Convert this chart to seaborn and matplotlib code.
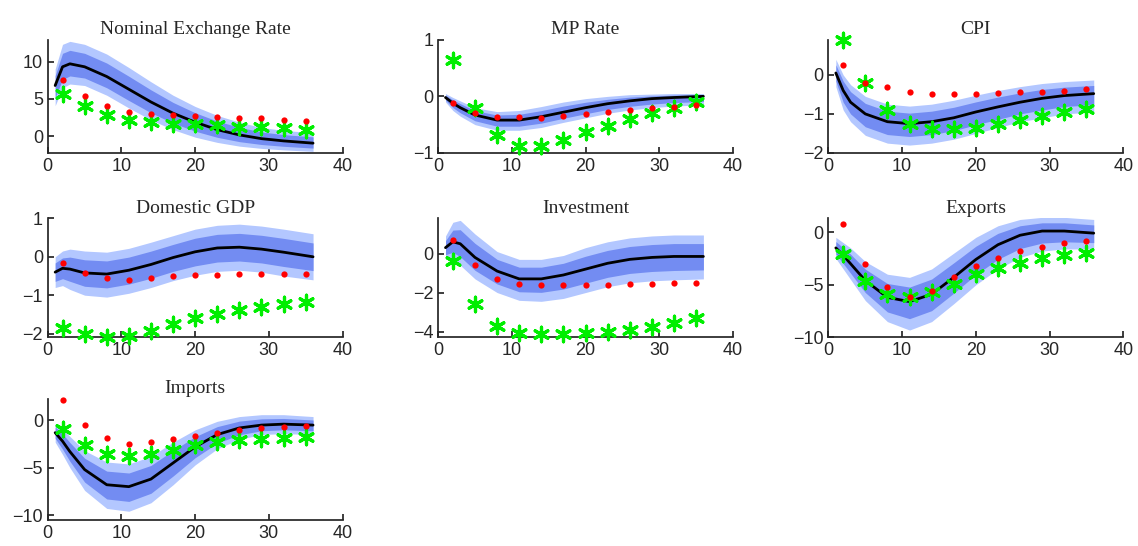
import numpy as np
import matplotlib
matplotlib.use("Agg")
import matplotlib.pyplot as plt
import seaborn as sns

titles = ["Nominal Exchange Rate", "MP Rate", "CPI", "Domestic GDP",
          "Investment", "Exports", "Imports"]

# horizon points for the model median and bands
x_line = [1, 2, 3, 5, 8, 11, 14, 17, 20, 23, 26, 29, 32, 36]
# horizons of the dot / star markers
x_mark = [2, 5, 8, 11, 14, 17, 20, 23, 26, 29, 32, 35]

median = [
    [6.8, 9.3, 9.7, 9.3, 8.0, 6.3, 4.6, 3.1, 1.9, 0.9, 0.2, -0.3, -0.6, -0.9],
    [-0.02, -0.12, -0.2, -0.33, -0.42, -0.42, -0.36, -0.28, -0.2, -0.13, -0.08, -0.04, -0.02, 0.0],
    [0.05, -0.4, -0.7, -1.0, -1.2, -1.25, -1.2, -1.1, -0.95, -0.82, -0.7, -0.6, -0.53, -0.48],
    [-0.4, -0.3, -0.32, -0.42, -0.45, -0.35, -0.2, -0.02, 0.13, 0.23, 0.25, 0.2, 0.12, 0.0],
    [0.3, 0.6, 0.5, -0.2, -0.9, -1.3, -1.3, -1.1, -0.8, -0.5, -0.3, -0.2, -0.15, -0.15],
    [-1.5, -2.2, -3.0, -4.6, -6.2, -6.6, -5.9, -4.3, -2.6, -1.2, -0.3, 0.1, 0.1, -0.1],
    [-1.3, -2.2, -3.3, -5.2, -6.8, -7.0, -6.2, -4.5, -2.8, -1.5, -0.8, -0.5, -0.4, -0.5],
]
outer_hi = [
    [9.0, 12.3, 12.7, 12.3, 11.0, 9.2, 7.3, 5.5, 4.0, 2.8, 1.9, 1.2, 0.8, 0.5],
    [0.05, -0.02, -0.08, -0.2, -0.27, -0.25, -0.18, -0.1, -0.04, 0.0, 0.03, 0.04, 0.05, 0.05],
    [0.4, 0.0, -0.25, -0.55, -0.75, -0.8, -0.75, -0.65, -0.52, -0.4, -0.3, -0.22, -0.17, -0.13],
    [0.0, 0.15, 0.2, 0.15, 0.12, 0.22, 0.38, 0.55, 0.72, 0.82, 0.85, 0.8, 0.72, 0.6],
    [0.9, 1.6, 1.7, 1.0, 0.1, -0.3, -0.3, -0.1, 0.3, 0.6, 0.8, 0.9, 0.95, 0.95],
    [-0.5, -1.0, -1.5, -2.8, -4.0, -4.3, -3.5, -2.0, -0.5, 0.6, 1.2, 1.4, 1.4, 1.2],
    [-0.3, -0.9, -1.7, -3.2, -4.4, -4.6, -3.8, -2.3, -1.0, -0.1, 0.4, 0.6, 0.6, 0.4],
]
outer_lo = [
    [4.1, 6.5, 7.0, 6.8, 5.5, 3.8, 2.2, 0.9, -0.1, -0.8, -1.3, -1.6, -1.8, -2.0],
    [-0.1, -0.25, -0.35, -0.5, -0.6, -0.6, -0.55, -0.46, -0.38, -0.3, -0.24, -0.2, -0.17, -0.15],
    [-0.3, -0.9, -1.2, -1.55, -1.75, -1.8, -1.75, -1.65, -1.5, -1.35, -1.2, -1.1, -1.0, -0.95],
    [-0.8, -0.75, -0.85, -1.0, -1.05, -0.95, -0.8, -0.62, -0.48, -0.38, -0.35, -0.4, -0.5, -0.6],
    [-0.3, -0.3, -0.6, -1.3, -2.0, -2.4, -2.45, -2.3, -2.0, -1.7, -1.5, -1.4, -1.35, -1.3],
    [-2.5, -3.5, -4.5, -6.5, -8.5, -9.3, -8.5, -6.8, -5.0, -3.5, -2.4, -1.8, -1.6, -1.6],
    [-2.3, -3.6, -5.0, -7.4, -9.3, -9.6, -8.7, -6.8, -4.7, -3.0, -2.0, -1.5, -1.4, -1.5],
]
red_dots = [
    [7.6, 5.4, 4.0, 3.3, 3.0, 2.8, 2.7, 2.6, 2.5, 2.4, 2.2, 2.1],
    [-0.12, -0.3, -0.36, -0.37, -0.38, -0.35, -0.32, -0.28, -0.25, -0.21, -0.18, -0.15],
    [0.25, -0.2, -0.3, -0.45, -0.5, -0.5, -0.48, -0.47, -0.45, -0.43, -0.4, -0.37],
    [-0.15, -0.42, -0.55, -0.6, -0.55, -0.5, -0.48, -0.47, -0.45, -0.45, -0.45, -0.45],
    [0.7, -0.6, -1.3, -1.55, -1.6, -1.6, -1.6, -1.6, -1.55, -1.55, -1.5, -1.5],
    [0.8, -3.0, -5.2, -6.2, -5.6, -4.3, -3.2, -2.5, -1.8, -1.4, -1.0, -0.8],
    [2.1, -0.5, -1.9, -2.5, -2.3, -2.0, -1.6, -1.3, -1.0, -0.8, -0.7, -0.6],
]
green_stars = [
    [5.7, 4.0, 2.8, 2.2, 1.9, 1.7, 1.6, 1.5, 1.3, 1.2, 1.1, 0.9],
    [0.65, -0.2, -0.68, -0.87, -0.88, -0.78, -0.63, -0.52, -0.4, -0.3, -0.2, -0.1],
    [0.9, -0.2, -0.9, -1.25, -1.4, -1.4, -1.35, -1.25, -1.15, -1.05, -0.95, -0.88],
    [-1.85, -2.0, -2.08, -2.05, -1.92, -1.75, -1.6, -1.48, -1.38, -1.3, -1.22, -1.18],
    [-0.4, -2.6, -3.7, -4.05, -4.1, -4.1, -4.05, -4.0, -3.9, -3.75, -3.55, -3.3],
    [-2.1, -4.6, -5.9, -6.2, -5.7, -4.9, -4.0, -3.4, -2.9, -2.5, -2.2, -2.0],
    [-0.9, -2.6, -3.6, -3.8, -3.6, -3.1, -2.6, -2.3, -2.1, -2.0, -1.9, -1.8],
]
ylims = [(-2.2, 12.9), (-1, 1), (-2, 0.9), (-2.1, 1), (-4.3, 1.8), (-10, 1.3), (-10.5, 2.3)]
yticks = [[0, 5, 10], [-1, 0, 1], [-2, -1, 0], [-2, -1, 0, 1], [-4, -2, 0],
          [-10, -5, 0], [-10, -5, 0]]
INNER_FRAC = 0.6  # inner band shown as narrower share of outer band

sns.set_theme(style="white")
plt.rcParams['font.family'] = ['Liberation Sans', 'DejaVu Sans']

fig = plt.figure(figsize=(11.38, 5.46), dpi=100)
lefts = [0.042, 0.385, 0.728]
bottoms = [0.72, 0.382, 0.048]
heights = [0.207, 0.218, 0.222]

for i, title in enumerate(titles):
    r, c = divmod(i, 3)
    ax = fig.add_axes([lefts[c], bottoms[r], 0.259, heights[r]])
    med = np.array(median[i])
    hi = np.array(outer_hi[i])
    lo = np.array(outer_lo[i])
    ax.fill_between(x_line, lo, hi, color=(0.70, 0.78, 1.0), lw=0)
    ax.fill_between(x_line, med + INNER_FRAC * (lo - med), med + INNER_FRAC * (hi - med),
                    color=(0.45, 0.55, 0.95), lw=0)
    sns.lineplot(x=x_line, y=med, ax=ax, color="black", lw=2)
    ax.plot(x_mark, red_dots[i], "o", color="red", ms=4.5, mec="none", clip_on=False, zorder=6)
    ax.scatter(x_mark, green_stars[i], marker=(6, 2, 0), s=110, color="#00ee00",
               linewidths=2.3, zorder=5, clip_on=False)
    ax.set_xlim(0, 40)
    ax.set_xticks([0, 10, 20, 30, 40])
    ax.set_ylim(*ylims[i])
    ax.set_yticks(yticks[i])
    ax.tick_params(labelsize=13, colors="#262626", length=4, direction="in",
                   left=True, bottom=True)
    for s in ["top", "right"]:
        ax.spines[s].set_visible(False)
    for s in ["left", "bottom"]:
        ax.spines[s].set_color("#262626")
    ax.set_title(title, family="Liberation Serif", fontsize=14, pad=4)

fig.savefig("out.png", dpi=100)
